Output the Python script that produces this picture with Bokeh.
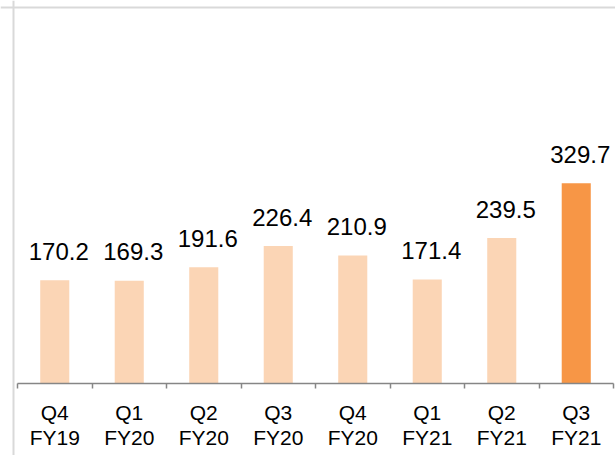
from bokeh.plotting import figure
from bokeh.models import ColumnDataSource, Range1d, FixedTicker, Span
from bokeh.core.properties import value
from bokeh.embed import file_html
from bokeh.resources import INLINE

quarters = ["Q4", "Q1", "Q2", "Q3", "Q4", "Q1", "Q2", "Q3"]
years = ["FY19", "FY20", "FY20", "FY20", "FY20", "FY21", "FY21", "FY21"]
values = [170.2, 169.3, 191.6, 226.4, 210.9, 171.4, 239.5, 329.7]
value_labels = ["170.2", "169.3", "191.6", "226.4", "210.9", "171.4", "239.5", "329.7"]

LIGHT = "#FBD5B5"
DARK = "#F79646"
bar_colors = [LIGHT] * (len(values) - 1) + [DARK]

n = len(values)
centers = [i + 0.5 for i in range(n)]
bounds = [float(i) for i in range(n + 1)]

src = ColumnDataSource(dict(x=centers, top=values, color=bar_colors, label=value_labels))

# layout (picture pixels): first category boundary at x=17, 74.5 px per category,
# baseline at y=383, 0.607 px per unit; frame covers the whole 615x455 figure
W, H = 615, 455
PX = 74.5
X0 = 17
x_start = (0 - X0) / PX
x_end = (W - X0) / PX
Y_SCALE = 0.607
BASE = 383
y_start = -(H - BASE) / Y_SCALE
y_end = BASE / Y_SCALE

p = figure(width=W, height=H, output_backend="svg", toolbar_location=None,
           x_range=Range1d(x_start, x_end), y_range=Range1d(y_start, y_end),
           min_border_left=0, min_border_right=0, min_border_top=0, min_border_bottom=0)
p.outline_line_color = None
p.xgrid.visible = False
p.ygrid.visible = False
p.yaxis.visible = False
p.background_fill_color = "white"
p.border_fill_color = "white"

p.vbar(x="x", top="top", width=0.39, bottom=0, fill_color="color", line_color=None, source=src)

p.text(x="x", y="top", text="label", source=src, x_offset=4, y_offset=-29,
       text_align="center", text_baseline="alphabetic",
       text_font=value("Liberation Sans"), text_font_size="24px", text_color="#000000")

# chart border (left & top)
p.add_layout(Span(location=(13 - X0) / PX, dimension="height", line_color="#d9d9d9", line_width=2))
p.add_layout(Span(location=(BASE - 7) / Y_SCALE, dimension="width", line_color="#d9d9d9", line_width=2))

ax = p.xaxis[0]
ax.fixed_location = 0
ax.ticker = FixedTicker(ticks=centers, minor_ticks=bounds)
ax.major_label_overrides = {c: f"{q}\n{y}" for c, q, y in zip(centers, quarters, years)}
ax.bounds = (0, n)
ax.axis_line_color = "#868686"
ax.axis_line_width = 1.5
ax.major_tick_line_color = None
ax.major_tick_out = 0
ax.major_tick_in = 0
ax.minor_tick_line_color = "#868686"
ax.minor_tick_line_width = 1.5
ax.minor_tick_out = 5
ax.minor_tick_in = 0
ax.major_label_standoff = 12
ax.major_label_text_font = "Liberation Sans"
ax.major_label_text_font_size = "21px"
ax.major_label_text_color = "#000000"
ax.major_label_text_line_height = 1.1

open("out.html", "w").write(file_html(p, INLINE))
